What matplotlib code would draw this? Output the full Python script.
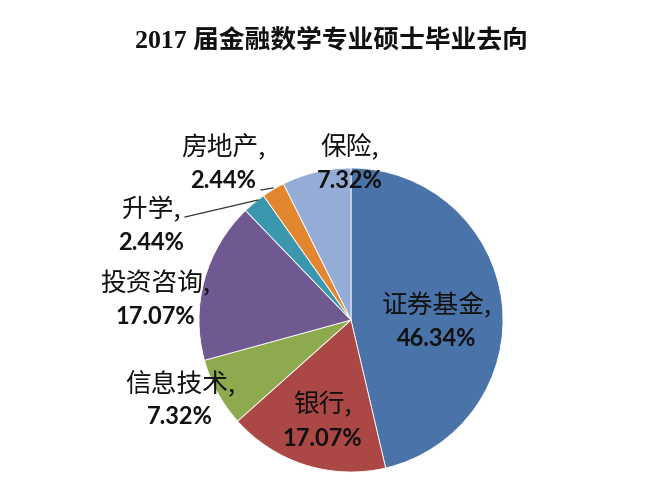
import matplotlib
matplotlib.use("Agg")
import matplotlib.pyplot as plt

plt.rcParams['font.family'] = ['Noto Sans CJK SC', 'DejaVu Sans']

title = "2017 届金融数学专业硕士毕业去向"
categories = ["证券基金", "银行", "信息技术", "投资咨询", "升学", "房地产", "保险"]
values = [46.34, 17.07, 7.32, 17.07, 2.44, 2.44, 7.32]
colors = ["#4A74A9", "#AB4744", "#8DAA4F", "#705891", "#3B97AD", "#E2872F", "#95ADD6"]

# label centres in pixel coordinates (layout only)
label_pos = [(437, 322), (322, 421), (180, 400), (155, 300), (151, 226), (223, 164), (350, 163)]
leaders = {4: [(185, 217), (258, 200)], 5: [(261, 190), (273, 188)]}

W, H = 666, 500
fig = plt.figure(figsize=(W / 100, H / 100), dpi=100)
ax = fig.add_axes([0, 0, 1, 1])


def fy(y):
    return H - y


ax.pie(values, colors=colors, startangle=90, counterclock=False,
       center=(351, fy(320)), radius=152, frame=True,
       wedgeprops=dict(edgecolor='white', linewidth=0.6))
ax.set_xlim(0, W)
ax.set_ylim(0, H)
ax.set_aspect('equal')
ax.axis('off')

for i, (cat, v) in enumerate(zip(categories, values)):
    x, y = label_pos[i]
    ax.text(x, fy(y - 16), cat + ",", ha='center', va='center', fontsize=18.5,
            color='#111111', family=['Noto Sans CJK SC'])
    ax.text(x, fy(y + 17), f"{v:.2f}%", ha='center', va='center', fontsize=17,
            fontweight='bold', color='#111111', family=['Lato', 'DejaVu Sans'])

for i, pts in leaders.items():
    xs = [p[0] for p in pts]
    ys = [fy(p[1]) for p in pts]
    ax.plot(xs, ys, color='#333333', linewidth=0.9)

ax.text(331, fy(40), title, ha='center', va='center', fontsize=18.5,
        fontweight='bold', color='#111111',
        family=['Liberation Serif', 'Noto Sans CJK SC'])

fig.savefig("out.png", dpi=100)
